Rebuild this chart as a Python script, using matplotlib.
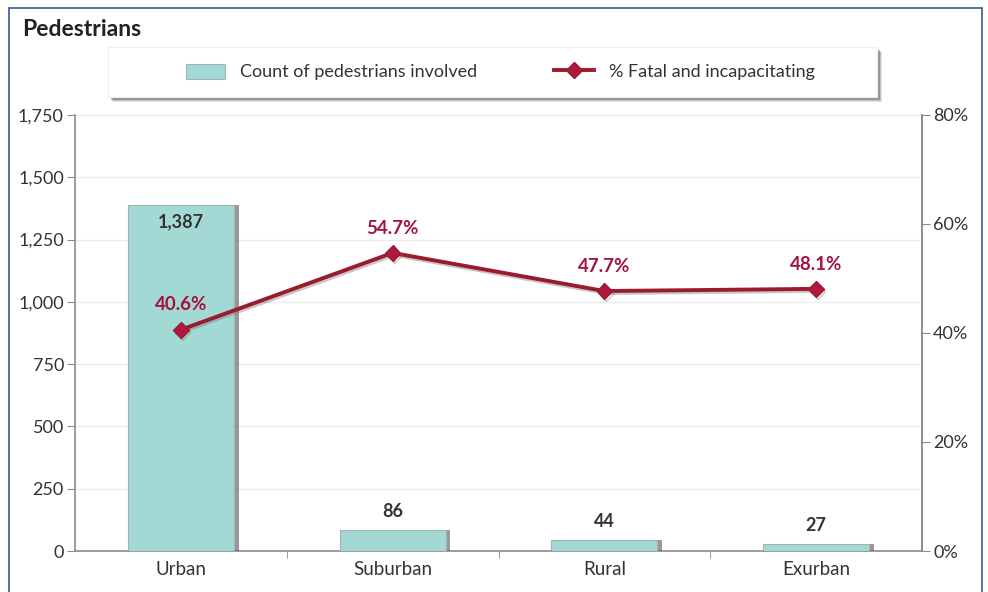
import matplotlib.pyplot as plt
import matplotlib.patches as patches
import matplotlib.patheffects as pe
from matplotlib.lines import Line2D
from matplotlib.ticker import FuncFormatter, FixedLocator

plt.rcParams['font.family'] = ['Lato', 'DejaVu Sans']

# Data
categories = ["Urban", "Suburban", "Rural", "Exurban"]
counts = [1387, 86, 44, 27]
pct_fatal = [40.6, 54.7, 47.7, 48.1]

BAR_COLOR = '#a3d9d4'
LINE_COLOR = '#9b1b2a'
MARKER_COLOR = '#b01842'
LABEL_RED = '#a3123f'
AXIS_GRAY = '#8c8c8c'
TEXT_DARK = '#333333'

fig = plt.figure(figsize=(9.88, 5.92), dpi=100)
W, H = 988, 592

def fx(px):
    return px / W

def fy(py):
    return 1 - py / H

# outer frame
fig.patches.append(patches.Rectangle((fx(9), fy(600)), fx(973), fy(8) - fy(600),
                                     transform=fig.transFigure, facecolor='none',
                                     edgecolor='#2f5f8f', linewidth=1.2, zorder=-10))
fig.text(fx(22), fy(30), "Pedestrians", fontsize=16.5, fontweight='bold',
         color='#222222', va='center', ha='left')

# legend box with drop shadow
for off, a in [(5, 0.15), (4, 0.25), (3, 0.4)]:
    fig.patches.append(patches.Rectangle((fx(108 + off), fy(97 + off)), fx(769), fy(47) - fy(97),
                                         transform=fig.transFigure, facecolor='#555555',
                                         edgecolor='none', alpha=a, zorder=1))
fig.patches.append(patches.Rectangle((fx(108), fy(97)), fx(769), fy(47) - fy(97),
                                     transform=fig.transFigure, facecolor='white',
                                     edgecolor='#eeeeee', linewidth=0.8, zorder=2))

ax = fig.add_axes([fx(75), fy(551), fx(922 - 75), fy(115) - fy(551)])
ax2 = ax.twinx()
ax.patch.set_alpha(0)
ax2.patch.set_alpha(0)

x = list(range(len(categories)))
bars = ax.bar(x, counts, width=0.5, color=BAR_COLOR, edgecolor='#9fb5b3',
              linewidth=0.8, zorder=3)
for b in bars:
    b.set_path_effects([pe.SimplePatchShadow(offset=(3.5, 0), shadow_rgbFace='#555555', alpha=0.6),
                        pe.Normal()])

ax.set_xlim(-0.5, len(categories) - 0.5)
ax.set_ylim(0, 1750)
ax.yaxis.set_major_locator(FixedLocator([0, 250, 500, 750, 1000, 1250, 1500, 1750]))
ax.yaxis.set_major_formatter(FuncFormatter(lambda v, p: f"{int(v):,}"))
ax.grid(axis='y', color='#ececec', linewidth=1, zorder=0)
ax.set_axisbelow(True)

# category labels centered, ticks between categories
ax.set_xticks(x)
ax.set_xticklabels(categories)
ax.set_xticks([i + 0.5 for i in x[:-1]], minor=True)
ax.tick_params(axis='x', which='major', length=0, pad=7, labelsize=13.5, labelcolor=TEXT_DARK)
ax.tick_params(axis='x', which='minor', length=5, color=AXIS_GRAY, direction='out')
ax.tick_params(axis='y', length=6, color=AXIS_GRAY, labelsize=13, labelcolor=TEXT_DARK, pad=2)

for s in ['top']:
    ax.spines[s].set_visible(False)
    ax2.spines[s].set_visible(False)
for s in ['left', 'bottom', 'right']:
    ax.spines[s].set_color(AXIS_GRAY)
    ax.spines[s].set_linewidth(1.2)
ax2.spines['right'].set_color(AXIS_GRAY)
ax2.spines['right'].set_linewidth(1.2)
ax2.spines['left'].set_visible(False)
ax2.spines['bottom'].set_visible(False)

# count labels
for xi, c in zip(x, counts):
    if c > 800:
        ax.text(xi, c - 30, f"{c:,}", ha='center', va='top', fontsize=13,
                fontweight='bold', color=TEXT_DARK, zorder=5)
    else:
        ax.text(xi, c + 40, f"{c:,}", ha='center', va='bottom', fontsize=13,
                fontweight='bold', color=TEXT_DARK, zorder=5)

# percentage line on secondary axis
ax2.set_ylim(0, 80)
ax2.yaxis.set_major_locator(FixedLocator([0, 20, 40, 60, 80]))
ax2.yaxis.set_major_formatter(FuncFormatter(lambda v, p: f"{int(v)}%"))
ax2.tick_params(axis='y', length=6, color=AXIS_GRAY, labelsize=13, labelcolor=TEXT_DARK, pad=2)
ax2.plot(x, pct_fatal, color=LINE_COLOR, linewidth=2.8, marker='D', markersize=8,
         markerfacecolor=MARKER_COLOR, markeredgecolor=LINE_COLOR, zorder=4,
         path_effects=[pe.SimpleLineShadow(offset=(1, -1.5), shadow_color='#777777', alpha=0.4),
                       pe.Normal()])
for xi, p in zip(x, pct_fatal):
    ax2.text(xi, p + 3, f"{p:.1f}%", ha='center', va='bottom', fontsize=13.5,
             fontweight='bold', color=LABEL_RED, zorder=5)

# legend
handles = [patches.Patch(facecolor=BAR_COLOR, edgecolor='#9fb5b3', linewidth=0.8),
           Line2D([0], [0], color=LINE_COLOR, linewidth=2.8, marker='D', markersize=8,
                  markerfacecolor=MARKER_COLOR, markeredgecolor=LINE_COLOR)]
leg = fig.legend(handles, ["Count of pedestrians involved", "% Fatal and incapacitating"],
                 loc='center', bbox_to_anchor=(fx(500), fy(72)), ncol=2, frameon=False,
                 fontsize=13, handlelength=2.2, handleheight=0.9, columnspacing=4.3,
                 labelcolor=TEXT_DARK)
leg.set_zorder(3)

fig.savefig("out.png", dpi=100)
